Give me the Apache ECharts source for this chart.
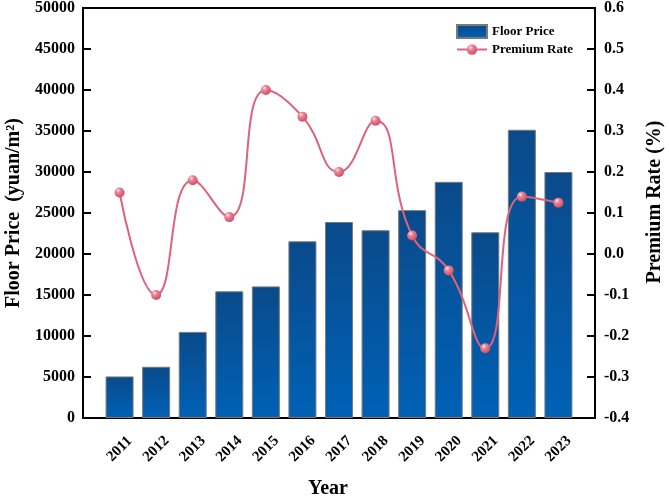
<!DOCTYPE html>
<html>
<head>
<meta charset="utf-8">
<script src="https://cdn.jsdelivr.net/npm/echarts@6/dist/echarts.min.js"></script>
<style>
  html, body { margin: 0; padding: 0; background: #fff; }
  #chart { width: 669px; height: 498px; }
</style>
</head>
<body>
<div id="chart"></div>
<script>
const years = ['2011', '2012', '2013', '2014', '2015', '2016', '2017', '2018', '2019', '2020', '2021', '2022', '2023']
const floorPrice = [5070, 6250, 10500, 15450, 16050, 21550, 23900, 22900, 25350, 28800, 22650, 35150, 30000]
const premiumRate = [0.15, -0.10, 0.18, 0.09, 0.40, 0.335, 0.20, 0.325, 0.045, -0.04, -0.23, 0.14, 0.125]

// half a slot of empty space on both ends, like the original plot
const xCats = [''].concat(years, [''])
const pad = arr => ['-'].concat(arr, ['-'])

const font = 'Liberation Serif'
const chart = echarts.init(document.getElementById('chart'))

const opt = {
  animation: false,
  textStyle: { fontFamily: font },
  grid: {
    left: 83,
    right: 74,
    top: 8,
    bottom: 80,
    outerBoundsMode: 'none',
    containLabel: false,
    show: true,
    borderColor: '#000',
    borderWidth: 2
  },
  legend: {
    orient: 'vertical',
    left: 451,
    top: 19,
    itemGap: 4,
    itemWidth: 30,
    itemHeight: 13,
    textStyle: { fontFamily: font, fontWeight: 'bold', fontSize: 13, color: '#000' },
    data: [
      { name: 'Floor Price', icon: 'rect' },
      { name: 'Premium Rate' }
    ]
  },
  xAxis: {
    type: 'category',
    data: xCats,
    boundaryGap: false,
    name: 'Year',
    nameLocation: 'middle',
    nameGap: 61,
    nameTextStyle: { fontFamily: font, fontWeight: 'bold', fontSize: 20, color: '#000', padding: [0, 22, 0, 0] },
    axisLine: { lineStyle: { color: '#000', width: 2 } },
    axisTick: { show: false },
    axisLabel: {
      interval: 0,
      rotate: 45,
      align: 'center',
      verticalAlign: 'middle',
      margin: 31,
      fontFamily: font,
      fontWeight: 'bold',
      fontSize: 15,
      color: '#000'
    },
    splitLine: { show: false }
  },
  yAxis: [{
    type: 'value',
    min: 0,
    max: 50000,
    interval: 5000,
    name: 'Floor Price  (yuan/m²)',
    nameLocation: 'middle',
    nameGap: 55,
    nameTextStyle: { fontFamily: font, fontWeight: 'bold', fontSize: 20, color: '#000' },
    axisLine: { show: true, lineStyle: { color: '#000', width: 2 } },
    axisTick: { show: true, inside: true, length: 8, lineStyle: { color: '#000', width: 2 } },
    axisLabel: {
      margin: 8,
      fontFamily: font,
      fontWeight: 'bold',
      fontSize: 16,
      color: '#000',
      formatter: v => String(v)
    },
    splitLine: { show: false }
  }, {
    type: 'value',
    min: -0.4,
    max: 0.6,
    interval: 0.1,
    name: 'Premium Rate (%)',
    nameLocation: 'middle',
    nameGap: 50,
    nameRotate: 90,
    nameTextStyle: { fontFamily: font, fontWeight: 'bold', fontSize: 20, color: '#000', padding: [0, 0, 0, 22] },
    axisLine: { show: true, lineStyle: { color: '#000', width: 2 } },
    axisTick: { show: true, inside: true, length: 8, lineStyle: { color: '#000', width: 2 } },
    axisLabel: {
      margin: 9,
      fontFamily: font,
      fontWeight: 'bold',
      fontSize: 16,
      color: '#000',
      formatter: v => v.toFixed(1)
    },
    splitLine: { show: false }
  }],
  series: [{
    name: 'Floor Price',
    type: 'bar',
    barWidth: 28,
    data: pad(floorPrice),
    itemStyle: {
      color: new echarts.graphic.LinearGradient(0, 0, 0, 1, [
        { offset: 0, color: '#0a4a8a' },
        { offset: 1, color: '#0061b6' }
      ]),
      borderColor: '#7a7a7a',
      borderWidth: 1
    }
  }, {
    name: 'Premium Rate',
    type: 'line',
    yAxisIndex: 1,
    smooth: 0.5,
    data: pad(premiumRate),
    symbol: 'circle',
    symbolSize: 10,
    lineStyle: { color: '#e0627a', width: 2 },
    itemStyle: {
      color: new echarts.graphic.RadialGradient(0.35, 0.3, 0.7, [
        { offset: 0, color: '#fbe3e8' },
        { offset: 0.35, color: '#e88497' },
        { offset: 1, color: '#d24f66' }
      ])
    }
  }]
}
chart.setOption(opt)
</script>
</body>
</html>
